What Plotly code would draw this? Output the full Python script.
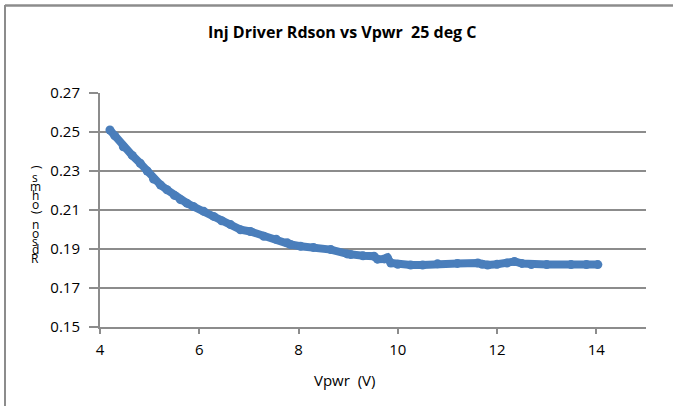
import plotly.graph_objects as go

vpwr = [4.20, 4.30, 4.47, 4.65, 4.81, 4.95, 5.08, 5.22, 5.35, 5.50, 5.62, 5.75, 5.88,
        6.09, 6.29, 6.45, 6.63, 6.83, 7.03, 7.30, 7.55, 7.77, 7.84, 8.04, 8.30, 8.65,
        8.98, 9.05, 9.30, 9.52, 9.59, 9.73, 9.79, 9.86, 10.00, 10.26, 10.50, 10.80,
        11.20, 11.61, 11.70, 11.81, 12.00, 12.20, 12.35, 12.50, 12.69, 13.00, 13.49,
        13.80, 14.03]
rdson = [0.2510, 0.2480, 0.2424, 0.2380, 0.2340, 0.2300, 0.2258, 0.2228, 0.2204,
         0.2175, 0.2153, 0.2135, 0.2118, 0.2093, 0.2067, 0.2045, 0.2025, 0.1999,
         0.1990, 0.1965, 0.1950, 0.1932, 0.1923, 0.1914, 0.1908, 0.1897, 0.1875,
         0.1872, 0.1865, 0.1863, 0.1848, 0.1849, 0.1855, 0.1828, 0.1822, 0.1818,
         0.1818, 0.1824, 0.1826, 0.1828, 0.1822, 0.1818, 0.1822, 0.1828, 0.1836,
         0.1826, 0.1820, 0.1820, 0.1820, 0.1820, 0.1820]

x_ticks = [4, 6, 8, 10, 12, 14]
y_ticks = [0.15, 0.17, 0.19, 0.21, 0.23, 0.25, 0.27]
y_tick_labels = ["0.15", "0.17", "0.19", "0.21", "0.23", "0.25", "0.27"]
title = "Inj Driver Rdson vs Vpwr  25 deg C"
x_title = "Vpwr  (V)"
y_title = "Rdson (ohms)"

FONT = "Open Sans"
BLUE = "#4A7EBB"
GRID = "#8C8C8C"

W, H = 673, 406
L, R, T, B = 100, 27, 93, 79
PW, PH = W - L - R, H - T - B


def px_x(p):
    return (p - L) / PW


def px_y(p):
    return (H - B - p) / PH


fig = go.Figure()
fig.add_trace(go.Scatter(
    x=vpwr, y=rdson, mode="lines+markers",
    line=dict(color=BLUE, width=8),
    marker=dict(color=BLUE, size=9, line=dict(width=0)),
    showlegend=False, hoverinfo="skip",
))

fig.update_layout(
    width=W, height=H,
    margin=dict(l=L, r=R, t=T, b=B),
    paper_bgcolor="white", plot_bgcolor="white",
    font=dict(family=FONT, size=14, color="#000000"),
    showlegend=False,
)
fig.update_xaxes(
    range=[4, 15], tickvals=x_ticks, ticktext=[str(v) for v in x_ticks],
    showgrid=False, zeroline=False,
    showline=True, linecolor=GRID, linewidth=2,
    ticks="outside", ticklen=5, tickcolor=GRID, tickwidth=2,
    ticklabelstandoff=3,
    tickfont=dict(family=FONT, size=15, color="#000000"),
)
fig.update_yaxes(
    range=[0.15, 0.27], tickvals=y_ticks, ticktext=y_tick_labels,
    showgrid=True, gridcolor=GRID, gridwidth=2, zeroline=False,
    showline=True, linecolor=GRID, linewidth=2,
    ticks="outside", ticklen=9, tickcolor=GRID, tickwidth=2,
    ticklabelstandoff=6,
    tickfont=dict(family=FONT, size=15, color="#000000"),
)

# title
fig.add_annotation(text="<b>" + title + "</b>", xref="paper", yref="paper",
                   x=px_x(342), y=px_y(32), xanchor="center", yanchor="middle",
                   showarrow=False, font=dict(family=FONT, size=16, color="#000000"))
# x title
fig.add_annotation(text=x_title, xref="paper", yref="paper",
                   x=px_x(344), y=px_y(380), xanchor="center", yanchor="middle",
                   showarrow=False, font=dict(family=FONT, size=15, color="#000000"))
# stacked y title (characters bottom to top, as in the original)
chars = [c for c in y_title if c != " "]
y_px = [258, 249, 241, 233, 224, 212, 204, 195, 186, 177, 167]
for ch, yp in zip(chars, y_px):
    fig.add_annotation(text=ch, xref="paper", yref="paper",
                       x=px_x(35), y=px_y(yp), xanchor="center", yanchor="middle",
                       showarrow=False, font=dict(family=FONT, size=12, color="#000000"),
                       textangle=-90 if ch in "()" else 0)

# chart border (only left and top edges fall inside the picture)
fig.add_shape(type="line", xref="paper", yref="paper", layer="above",
              x0=px_x(5), x1=px_x(W), y0=px_y(5.5), y1=px_y(5.5),
              line=dict(color=GRID, width=2.5))
fig.add_shape(type="line", xref="paper", yref="paper", layer="above",
              x0=px_x(5), x1=px_x(5), y0=px_y(5), y1=px_y(H),
              line=dict(color=GRID, width=2))

fig.write_html("out.html", config={"displayModeBar": False},
               post_script="document.body.style.margin='0';document.body.style.overflow='hidden';document.documentElement.style.overflow='hidden';")
